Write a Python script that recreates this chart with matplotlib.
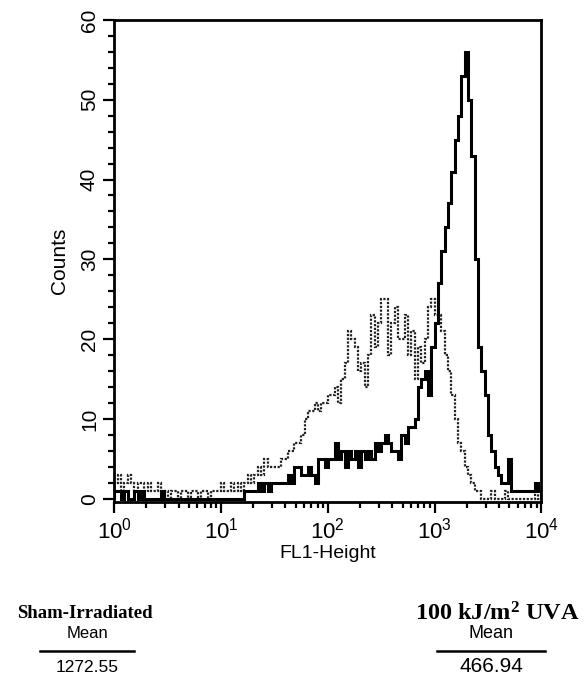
#!/usr/bin/env python3
"""Flow cytometry histogram: sham-irradiated vs 100 kJ/m2 UVA (FL1-Height)."""

import matplotlib
matplotlib.use("Agg")
import matplotlib.pyplot as plt
import numpy as np

plt.rcParams["font.family"] = ["Liberation Sans", "DejaVu Sans"]
plt.rcParams["mathtext.default"] = "regular"

# 128 log channels over 10^0 .. 10^4
N_BINS = 128
LOG_MIN, LOG_MAX = 0.0, 4.0

# Sham-irradiated (solid)
sham_counts = [
    1, 1, 0, 1, 0, 0, 1, 0, 1, 0,
    0, 0, 0, 0, 1, 0, 0, 0, 0, 0,
    0, 0, 0, 0, 0, 0, 0, 0, 0, 0,
    0, 0, 0, 0, 0, 0, 0, 0, 0, 1,
    1, 1, 1, 2, 1, 2, 1, 2, 2, 2,
    2, 2, 3, 2, 4, 4, 3, 3, 4, 3,
    2, 5, 5, 4, 5, 5, 7, 5, 6, 4,
    6, 5, 6, 4, 6, 5, 6, 5, 7, 6,
    7, 8, 7, 6, 6, 5, 8, 7, 9, 9,
    10, 14, 15, 16, 13, 19, 22, 27, 31, 34,
    37, 41, 45, 48, 53, 56, 50, 43, 30, 19,
    16, 13, 8, 6, 4, 3, 2, 2, 5, 1,
    1, 1, 1, 1, 1, 1, 2, 1,
]

# 100 kJ/m2 UVA (dotted)
uva_counts = [
    2, 3, 1, 2, 3, 2, 1, 2, 2, 1,
    2, 1, 1, 2, 1, 1, 0, 1, 1, 0,
    1, 1, 0, 1, 1, 0, 1, 1, 0, 1,
    1, 1, 2, 1, 1, 2, 1, 2, 1, 2,
    3, 2, 3, 4, 3, 5, 4, 4, 4, 4,
    5, 5, 6, 6, 7, 7, 8, 10, 11, 11,
    12, 11, 12, 12, 13, 13, 14, 12, 15, 17,
    21, 20, 19, 16, 17, 14, 18, 23, 19, 22,
    25, 25, 18, 22, 24, 20, 20, 23, 18, 21,
    15, 19, 17, 20, 24, 25, 23, 23, 21, 18,
    16, 13, 10, 7, 6, 4, 3, 2, 1, 1,
    0, 0, 0, 1, 0, 0, 0, 1, 0, 0,
    0, 0, 0, 0, 0, 0, 1, 0,
]

labels = ["Sham-Irradiated", "100 kJ/m$^2$ UVA"]
means = ["1272.55", "466.94"]

edges = np.logspace(LOG_MIN, LOG_MAX, N_BINS + 1)

fig = plt.figure(figsize=(5.86, 6.84), dpi=100)
ax = fig.add_axes([0.195, 0.266, 0.729, 0.705])

ax.stairs(uva_counts, edges, color="#222222", linewidth=1.6, linestyle=(0, (1, 0.7)))
ax.stairs(sham_counts, edges, color="black", linewidth=2.2)

ax.set_xscale("log")
ax.set_xlim(1, 1e4)
ax.set_ylim(-0.4, 60)
ax.set_yticks([0, 10, 20, 30, 40, 50, 60])
ax.set_yticks(np.arange(0, 61, 2), minor=True)
ax.tick_params(axis="y", which="major", length=8, width=1.6, labelsize=15, pad=3)
ax.tick_params(axis="y", which="minor", length=4, width=1.6)
ax.tick_params(axis="x", which="major", length=8, width=1.6, labelsize=16, pad=3)
ax.tick_params(axis="x", which="minor", length=4, width=1.6)
for lab in ax.get_yticklabels():
    lab.set_rotation(90)
    lab.set_va("center")
for sp in ax.spines.values():
    sp.set_linewidth(2.0)

ax.set_xlabel("FL1-Height", fontsize=14, labelpad=1)
ax.set_ylabel("Counts", fontsize=15, labelpad=8)

# Summary below the plot
serif = ["Liberation Serif", "DejaVu Serif"]
blocks = [
    (85, 87, labels[0], means[0], 13.5, 12, 12.5, 47),
    (497, 491, labels[1], means[1], 17.5, 13, 15, 54),
]
for tx, cx, lab, m, fs_t, fs_m, fs_n, half in blocks:
    fig.text(tx / 586, 1 - 614 / 684, lab, ha="center", va="center", family=serif,
             fontweight="bold", fontsize=fs_t)
    fig.text(cx / 586, 1 - 634 / 684, "Mean", ha="center", va="center", fontsize=fs_m)
    fig.add_artist(plt.Line2D([(cx - half) / 586, (cx + half) / 586], [1 - 651 / 684] * 2,
                              color="black", linewidth=1.8, transform=fig.transFigure))
    fig.text(cx / 586, 1 - 667 / 684, m, ha="center", va="center", fontsize=fs_n)

fig.savefig("out.png", dpi=100, facecolor="white")
